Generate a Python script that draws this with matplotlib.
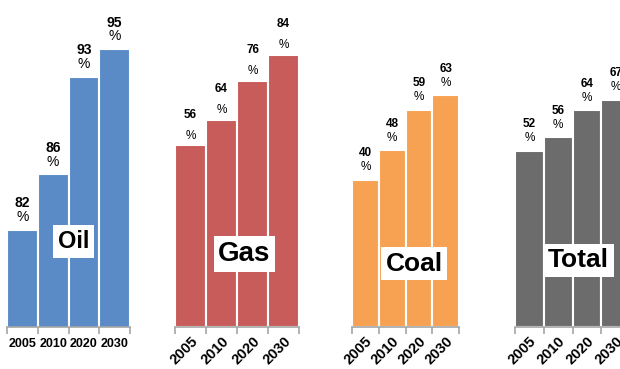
import numpy as np
import matplotlib.pyplot as plt

plt.rcParams["font.family"] = ["Liberation Sans", "DejaVu Sans"]

years = ["2005", "2010", "2020", "2030"]
oil = [82, 86, 93, 95]
gas = [56, 64, 76, 84]
coal = [40, 48, 59, 63]
total = [52, 56, 64, 67]

groups = [
    # name, values, color, axes rect, ylim, label box center (axes frac), rotate ticks, label size, value fontsize
    ("Oil", oil, "#5B8BC6", [7 / 620, 42 / 369, 123 / 620, 317 / 369], (75, 97.8), (0.54, 0.27), 0, 17, 10),
    ("Gas", gas, "#C75C5A", [175 / 620, 42 / 369, 124 / 620, 317 / 369], (0, 97.8), (0.56, 0.23), 45, 20, 8.5),
    ("Coal", coal, "#F7A153", [352 / 620, 42 / 369, 107 / 620, 317 / 369], (0, 86.1), (0.58, 0.20), 45, 19, 8.5),
    ("Total", total, "#6C6C6C", [515 / 620, 42 / 369, 115 / 620, 317 / 369], (0, 93.5), (0.55, 0.21), 45, 19, 8.5),
]

fig = plt.figure(figsize=(6.2, 3.69), dpi=100)

for name, vals, color, rect, ylim, lab, rot, lsize, vsize in groups:
    ax = fig.add_axes(rect)
    x = np.arange(len(vals))
    ax.bar(x, vals, width=1.0, color=color, edgecolor="white", linewidth=1.5)
    ax.set_xlim(-0.5, len(vals) - 0.5)
    ax.set_ylim(*ylim)
    ax.set_yticks([])
    for s in ["top", "right", "left"]:
        ax.spines[s].set_visible(False)
    ax.spines["bottom"].set_color("#A6A6A6")
    ax.spines["bottom"].set_linewidth(1.2)
    ax.set_xticks(x)
    ax.set_xticks(np.arange(len(vals) + 1) - 0.5, minor=True)
    ax.tick_params(axis="x", which="major", length=0, pad=8 if rot == 0 else 5)
    ax.tick_params(axis="x", which="minor", length=5, color="#A6A6A6", width=1.2)
    if rot:
        ax.set_xticklabels(years, rotation=45, ha="right", va="top",
                           rotation_mode="anchor", fontsize=10.5, fontweight="bold")
    else:
        ax.set_xticklabels(years, fontsize=9, fontweight="bold")
    for xi, v in zip(x, vals):
        ax.annotate(str(v), (xi, v), xytext=(0, 19 if name != "Gas" else 22),
                    textcoords="offset points", ha="center", va="center",
                    fontsize=vsize, fontweight="bold", annotation_clip=False)
        ax.annotate("%", (xi, v), xytext=(0, 9 if name != "Gas" else 7),
                    textcoords="offset points", ha="center", va="center",
                    fontsize=vsize, annotation_clip=False)
    ax.text(lab[0], lab[1], name, transform=ax.transAxes, ha="center", va="center",
            fontsize=lsize, fontweight="bold",
            bbox=dict(facecolor="white", edgecolor="none", pad=3.5))

fig.savefig("out.png", dpi=100)
